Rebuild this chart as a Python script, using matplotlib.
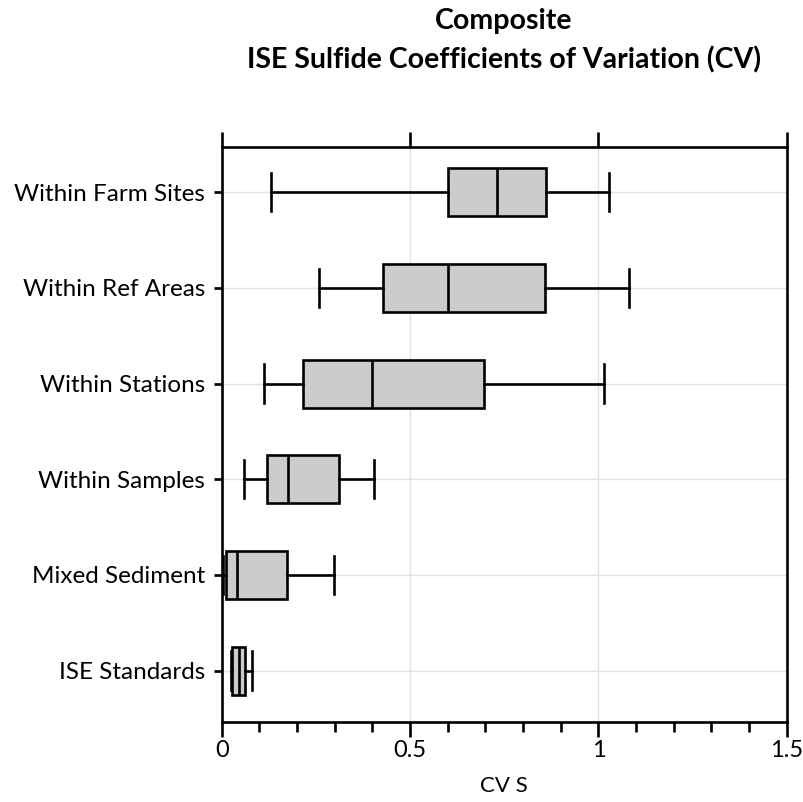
import matplotlib.pyplot as plt
from matplotlib.ticker import MultipleLocator

plt.rcParams['font.family'] = ['Lato', 'DejaVu Sans']

# categories, bottom to top
labels = ['ISE Standards', 'Mixed Sediment', 'Within Samples',
          'Within Stations', 'Within Ref Areas', 'Within Farm Sites']
whislo = [0.025, 0.003, 0.058, 0.111, 0.257, 0.131]
q1 = [0.028, 0.012, 0.119, 0.217, 0.429, 0.601]
med = [0.045, 0.040, 0.175, 0.398, 0.602, 0.732]
q3 = [0.063, 0.174, 0.311, 0.697, 0.857, 0.861]
whishi = [0.080, 0.298, 0.403, 1.015, 1.080, 1.027]

stats = []
for i in range(len(labels)):
    stats.append(dict(label=labels[i], whislo=whislo[i], q1=q1[i], med=med[i],
                      q3=q3[i], whishi=whishi[i], fliers=[]))

fig = plt.figure(figsize=(8.04, 8.02), dpi=100)
W, H = 804, 802
ax = fig.add_axes([221.7 / W, 1 - 722 / H, (786.8 - 221.7) / W, (722 - 146.5) / H])

lw = 1.9
ax.bxp(stats, positions=range(1, 7), vert=False, widths=0.5, capwidths=0.4,
       patch_artist=True, showfliers=False,
       boxprops=dict(facecolor='#cccccc', edgecolor='black', linewidth=lw),
       medianprops=dict(color='black', linewidth=lw),
       whiskerprops=dict(color='black', linewidth=lw),
       capprops=dict(color='black', linewidth=lw))

ax.set_xlim(0, 1.5)
ax.set_ylim(0.463, 6.478)
ax.set_yticks(range(1, 7))
ax.set_yticklabels(labels, fontsize=17.5)
ax.xaxis.set_major_locator(MultipleLocator(0.5))
ax.xaxis.set_minor_locator(MultipleLocator(0.1))
ax.set_xticks([0, 0.5, 1, 1.5])
ax.set_xticklabels(['0', '0.5', '1', '1.5'], fontsize=17)

ax.tick_params(axis='x', which='major', direction='out', length=11, width=lw,
               top=True, labeltop=False, pad=2)
ax.tick_params(axis='x', which='minor', direction='out', length=7, width=lw,
               top=False)
ax.tick_params(axis='y', direction='out', length=6, width=lw, pad=6)

for s in ax.spines.values():
    s.set_linewidth(lw)

ax.grid(True, which='major', color='#e2e2e2', linewidth=1)
ax.set_axisbelow(True)

ax.set_xlabel('CV S', fontsize=16, labelpad=11)

fig.text(504 / W, 1 - 21 / H, 'Composite', ha='center', va='center',
         fontsize=20.5, fontweight='bold')
fig.text(504 / W, 1 - 60 / H, 'ISE Sulfide Coefficients of Variation (CV)',
         ha='center', va='center', fontsize=20.5, fontweight='bold')

fig.savefig('out.png', dpi=100)
